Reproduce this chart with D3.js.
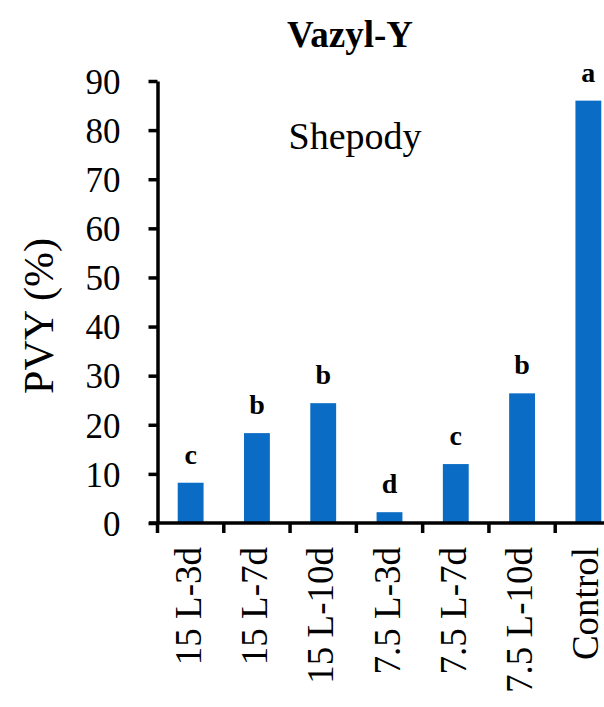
<!DOCTYPE html>
<html>
<head>
<meta charset="utf-8">
<script src="https://cdn.jsdelivr.net/npm/d3@7"></script>
<style>
  body { margin: 0; background: #fff; }
  text { font-family: "Times New Roman", "Liberation Serif", "DejaVu Serif", "Liberation Sans", sans-serif; fill: #000; }
</style>
</head>
<body>
<div id="chart"></div>
<script>
/**
 * Vazyl-Y on Shepody, PVY (%)
 */
const categories = ["15 L-3d", "15 L-7d", "15 L-10d", "7.5 L-3d", "7.5 L-7d", "7.5 L-10d", "Control"];
const pvyValues = [8.2, 18.3, 24.4, 2.2, 12.0, 26.4, 86.0];
const letters = ["c", "b", "b", "d", "c", "b", "a"];
const yTicks = [0, 10, 20, 30, 40, 50, 60, 70, 80, 90];

const canvasWidth = 604;
const canvasHeight = 707;

const svg = d3.select("#chart")
  .append("svg")
  .attr("width", canvasWidth)
  .attr("height", canvasHeight);

// scales (the plot runs past the right edge, like the cropped figure)
const xScale = d3.scaleBand()
  .domain(categories)
  .range([157.5, 621.5])
  .paddingInner(0.61)
  .paddingOuter(0.305);

const yScale = d3.scaleLinear()
  .domain([0, 90])
  .range([523, 81]);

// bars
svg.selectAll(".bar")
  .data(pvyValues)
  .enter()
  .append("rect")
  .attr("class", "bar")
  .attr("x", (d, i) => xScale(categories[i]))
  .attr("y", d => yScale(d))
  .attr("width", xScale.bandwidth())
  .attr("height", d => yScale(0) - yScale(d))
  .attr("fill", "#0a6cc4");

// letters above bars
svg.selectAll(".letter")
  .data(letters)
  .enter()
  .append("text")
  .attr("x", (d, i) => xScale(categories[i]) + xScale.bandwidth() / 2)
  .attr("y", (d, i) => yScale(pvyValues[i]) - 19)
  .attr("text-anchor", "middle")
  .attr("font-size", 28)
  .attr("font-weight", "bold")
  .text(d => d);

// y axis
const yAxisG = svg.append("g")
  .attr("transform", "translate(157.5,0)")
  .call(d3.axisLeft(yScale).tickValues(yTicks).tickSize(9).tickPadding(28).tickSizeOuter(0));
yAxisG.select(".domain").attr("stroke", "#000").attr("stroke-width", 3.5);
yAxisG.selectAll(".tick line").attr("stroke", "#000").attr("stroke-width", 3.5);
yAxisG.selectAll(".tick text")
  .attr("font-size", 35)
  .attr("dy", "0.35em");

// x axis: ticks sit on the category boundaries
const step = xScale.step();
const boundaries = d3.range(categories.length + 1).map(i => 157.5 + i * step);

svg.append("line")
  .attr("x1", 149)
  .attr("x2", canvasWidth)
  .attr("y1", yScale(0))
  .attr("y2", yScale(0))
  .attr("stroke", "#000")
  .attr("stroke-width", 3.5);

svg.selectAll(".xtick")
  .data(boundaries)
  .enter()
  .append("line")
  .attr("x1", d => d)
  .attr("x2", d => d)
  .attr("y1", yScale(0))
  .attr("y2", yScale(0) + 10)
  .attr("stroke", "#000")
  .attr("stroke-width", 3.5);

svg.selectAll(".xlabel")
  .data(categories)
  .enter()
  .append("text")
  .attr("transform", d => "translate(" + (xScale(d) + xScale.bandwidth() / 2 + 10) + "," + 547 + ") rotate(-90)")
  .attr("text-anchor", "end")
  .attr("font-size", 37)
  .text(d => d);

// y axis title
svg.append("text")
  .attr("transform", "translate(53,316) rotate(-90)")
  .attr("text-anchor", "middle")
  .attr("font-size", 42)
  .text("PVY (%)");

// chart title
svg.append("text")
  .attr("x", 350)
  .attr("y", 47)
  .attr("text-anchor", "middle")
  .attr("font-size", 37)
  .attr("font-weight", "bold")
  .text("Vazyl-Y");

// cultivar label
svg.append("text")
  .attr("x", 355)
  .attr("y", 149)
  .attr("text-anchor", "middle")
  .attr("font-size", 38)
  .text("Shepody");
</script>
</body>
</html>
